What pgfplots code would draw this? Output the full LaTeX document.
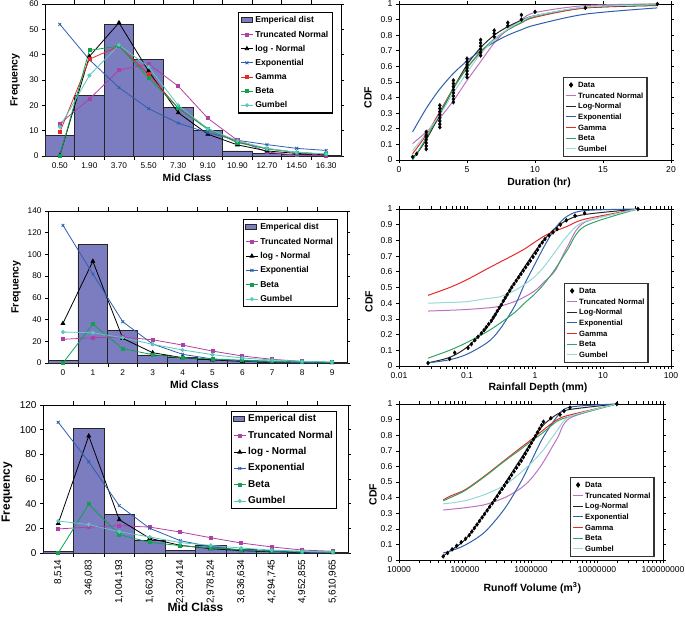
\documentclass[border=0pt]{standalone}
\usepackage{fontspec}
\setmainfont{Liberation Sans}
\usepackage{pgfplots}
\pgfplotsset{compat=1.18}
\definecolor{barfill}{RGB}{124,124,192}
\definecolor{tn}{RGB}{176,64,168}
\definecolor{expc}{RGB}{46,95,173}
\definecolor{gam}{RGB}{230,40,40}
\definecolor{bet}{RGB}{16,160,80}
\definecolor{gum}{RGB}{90,200,190}
\definecolor{tnl}{RGB}{192,112,192}
\definecolor{betl}{RGB}{48,165,100}
\definecolor{guml}{RGB}{150,215,215}
\pgfplotsset{
 common/.style={scale only axis, clip=false,
   axis line style={black,line width=0.9pt},
   tick align=outside, tick style={black,line width=0.6pt}, major tick length=3bp,
   /pgf/number format/assume math mode=true,
   legend cell align=left,
   xlabel style={font=\bfseries\fontsize{10.5}{12}\selectfont, anchor=center},
   ylabel style={font=\bfseries\fontsize{10.5}{12}\selectfont, anchor=center},
 },
 hist/.style={common, xmin=-0.5, xmax=9.5, xtick={0,...,9}, minor x tick num=1,
   major x tick style={draw=none}, minor tick length=4bp, ymin=0,
   legend image code/.code={\draw[mark repeat=2,mark phase=2,##1] plot coordinates {(0bp,0bp) (6bp,0bp) (12bp,0bp)};},
   legend style={draw=black, line width=1.1pt, fill=white, anchor=north west,
     inner xsep=2pt, inner ysep=1pt,
     nodes={inner sep=2pt, text height=0.74em, text depth=0.22em}},
 },
 cdf/.style={common, ymin=0, ymax=1,
   ytick={0,0.1,0.2,0.3,0.4,0.5,0.6,0.7,0.8,0.9,1},
   yticklabels={0,0.1,0.2,0.3,0.4,0.5,0.6,0.7,0.8,0.9,1},
   tick label style={font=\fontsize{8.6}{10}\selectfont},
   legend image code/.code={\draw[mark repeat=2,mark phase=2,##1] plot coordinates {(0bp,0bp) (5bp,0bp) (10bp,0bp)};},
   legend style={draw=black!80, line width=1.1pt, fill=white, anchor=north west,
     font=\bfseries\fontsize{7.7}{9}\selectfont,
     inner xsep=2pt, inner ysep=1pt, row sep=-2.1pt,
     nodes={inner sep=1.6pt, text height=0.74em, text depth=0.22em}},
 },
 barS/.style={ybar, bar width=1, bar shift=0pt, fill=barfill, draw=black!85, line width=0.8pt,
   legend image code/.code={\draw[##1] (0bp,-2.5bp) rectangle (11bp,2.5bp);}},
 tnS/.style={color=tn, line width=0.8pt, mark=square*, mark size=1.5bp},
 lnS/.style={color=black, line width=0.8pt, mark=triangle*, mark size=2.1bp},
 exS/.style={color=expc, line width=0.8pt, mark=x, mark size=2bp},
 gaS/.style={color=gam, line width=0.8pt, mark=square*, mark size=1.5bp},
 beS/.style={color=bet, line width=0.8pt, mark=square*, mark size=1.5bp},
 guS/.style={color=gum, line width=0.8pt, mark=*, mark size=1.6bp},
 dS/.style={only marks, mark=diamond*, mark size=2bp, black},
 ctn/.style={color=tnl, line width=1pt, smooth, no marks},
 cln/.style={color=black!85, line width=1pt, smooth, no marks},
 cex/.style={color=expc, line width=1pt, smooth, no marks},
 cga/.style={color=gam, line width=1pt, smooth, no marks},
 cbe/.style={color=betl, line width=1pt, smooth, no marks},
 cgu/.style={color=guml, line width=1pt, smooth, no marks},
}
\begin{document}
\begin{tikzpicture}
\path[use as bounding box] (0,0) rectangle (685bp,622bp);

% ---------------- Panel 1: Duration histogram
\begin{axis}[hist, at={(45bp,466bp)}, anchor=south west, width=296bp, height=152bp,
  ymax=60, ytick={0,10,...,60},
  xticklabels={0.50,1.90,3.70,5.50,7.30,9.10,10.90,12.70,14.50,16.30},
  tick label style={font=\fontsize{8.3}{10}\selectfont},
  xlabel={Mid Class}, ylabel={Frequency},
  xlabel style={at={(axis description cs:0.48,-0.145)}},
  ylabel style={at={(axis description cs:-0.101,0.5)}},
  legend style={at={(axis description cs:0.652,0.947)}, font=\bfseries\fontsize{8.6}{10}\selectfont, row sep=0.6pt}]
\addplot[barS] coordinates {(0,8) (1,24) (2,52) (3,38) (4,19) (5,10) (6,2) (7,1) (8,0.5) (9,0.3)};
\addlegendentry{Emperical dist}
\addplot[tnS] coordinates {(0,12.8) (1,22.5) (2,33.9) (3,36.3) (4,27.6) (5,14.9) (6,6.2) (7,1.6) (8,0.3) (9,0.1)};
\addlegendentry{Truncated Normal}
\addplot[lnS] coordinates {(0,0.2) (1,39.3) (2,52.6) (3,33.5) (4,17.1) (5,8.6) (6,4.4) (7,2.0) (8,1.0) (9,0.5)};
\addlegendentry{log - Normal}
\addplot[exS] coordinates {(0,52) (1,38) (2,27) (3,18.7) (4,13) (5,9.2) (6,6.2) (7,4.5) (8,3) (9,2.2)};
\addlegendentry{Exponential}
\addplot[gaS] coordinates {(0,9.4) (1,38.2) (2,43.4) (3,32.3) (4,18.9) (5,10.8) (6,5.5) (7,2.9) (8,1.4) (9,0.7)};
\addlegendentry{Gamma}
\addplot[beS] coordinates {(0,0) (1,41.7) (2,43.4) (3,30.9) (4,19) (5,10.5) (6,5.3) (7,2.8) (8,1.4) (9,0.7)};
\addlegendentry{Beta}
\addplot[guS] coordinates {(0,11.5) (1,31.8) (2,43.8) (3,35.2) (4,20) (5,10.8) (6,6) (7,3) (8,1.5) (9,0.8)};
\addlegendentry{Gumbel}
\end{axis}

% ---------------- Panel 2: Duration CDF
\begin{axis}[cdf, at={(399bp,462bp)}, anchor=south west, width=272bp, height=156bp,
  xmin=0, xmax=20, xtick={0,5,10,15,20},
  xlabel={Duration (hr)}, ylabel={CDF},
  xlabel style={at={(axis description cs:0.515,-0.147)}},
  ylabel style={at={(axis description cs:-0.114,0.40)}},
  legend style={at={(axis description cs:0.603,0.532)}}]
\addlegendimage{dS}\addlegendentry{Data}
\addplot[ctn] coordinates {(1,0.105) (2,0.18) (3,0.27) (4,0.38) (5,0.51) (6,0.63) (7,0.75) (8,0.84) (9,0.90) (10,0.945) (13.7,0.99) (19,1.0)};
\addlegendentry{Truncated Normal}
\addplot[cln] coordinates {(1,0.02) (1.3,0.04) (2,0.13) (3,0.29) (4,0.46) (5,0.61) (6,0.72) (7,0.80) (8,0.855) (9,0.895) (10,0.925) (13.7,0.975) (19,0.99)};
\addlegendentry{Log-Normal}
\addplot[cex] coordinates {(1,0.18) (2,0.33) (3,0.455) (4,0.555) (5,0.635) (6,0.70) (7,0.755) (8,0.80) (9,0.835) (10,0.865) (13.7,0.935) (19,0.975)};
\addlegendentry{Exponential}
\addplot[cga] coordinates {(1,0.04) (2,0.16) (3,0.31) (4,0.46) (5,0.59) (6,0.69) (7,0.77) (8,0.835) (9,0.88) (10,0.915) (13.7,0.975) (19,0.995)};
\addlegendentry{Gamma}
\addplot[cbe] coordinates {(1,0.0) (2,0.14) (3,0.30) (4,0.46) (5,0.59) (6,0.695) (7,0.775) (8,0.835) (9,0.88) (10,0.92) (13.7,0.98) (19,1.0)};
\addlegendentry{Beta}
\addplot[cgu] coordinates {(1,0.06) (2,0.17) (3,0.29) (4,0.43) (5,0.56) (6,0.68) (7,0.77) (8,0.84) (9,0.89) (10,0.925) (13.7,0.98) (19,0.995)};
\addlegendentry{Gumbel}
\addplot[dS, forget plot] coordinates {(1.0,0.02) (1.3,0.04)
 (2,0.07) (2,0.09) (2,0.11) (2,0.13) (2,0.15) (2,0.16) (2,0.18)
 (3,0.21) (3,0.23) (3,0.25) (3,0.27) (3,0.29) (3,0.31) (3,0.33) (3,0.35)
 (4,0.37) (4,0.39) (4,0.41) (4,0.43) (4,0.45) (4,0.47) (4,0.49) (4,0.51)
 (5,0.53) (5,0.55) (5,0.57) (5,0.59) (5,0.61) (5,0.63) (5,0.65)
 (6,0.67) (6,0.69) (6,0.71) (6,0.73) (6,0.75) (6,0.77)
 (7,0.79) (7,0.81) (7,0.83) (8,0.86) (8,0.88) (9,0.90) (9,0.93)
 (10,0.95) (13.7,0.975) (19,1.0)};
\end{axis}

% ---------------- Panel 3: Rainfall histogram
\begin{axis}[hist, at={(48bp,259bp)}, anchor=south west, width=299bp, height=152bp,
  ymax=140, ytick={0,20,...,140},
  xticklabels={0,1,2,3,4,5,6,7,8,9},
  tick label style={font=\fontsize{8.3}{10}\selectfont},
  xlabel={Mid Class}, ylabel={Frequency},
  xlabel style={at={(axis description cs:0.49,-0.145)}},
  ylabel style={at={(axis description cs:-0.107,0.5)}},
  legend style={at={(axis description cs:0.652,0.947)}, font=\bfseries\fontsize{8.6}{10}\selectfont, row sep=0.8pt}]
\addplot[barS] coordinates {(0,2) (1,109) (2,30.3) (3,7.4) (4,5) (5,3) (6,2) (7,1) (8,1) (9,0.5)};
\addlegendentry{Emperical dist}
\addplot[tnS] coordinates {(0,21.8) (1,23.3) (2,23.8) (3,21.4) (4,16.5) (5,11) (6,6.4) (7,3.4) (8,1.5) (9,0.6)};
\addlegendentry{Truncated Normal}
\addplot[lnS] coordinates {(0,36.5) (1,93.7) (2,22.7) (3,9.5) (4,4.9) (5,2.8) (6,1.5) (7,0.9) (8,0.6) (9,0.3)};
\addlegendentry{log - Normal}
\addplot[exS] coordinates {(0,126.8) (1,82) (2,38) (3,17.5) (4,8) (5,3.7) (6,1.8) (7,0.9) (8,0.4) (9,0.2)};
\addlegendentry{Exponential}
\addplot[beS] coordinates {(0,0) (1,35.8) (2,13.2) (3,7.7) (4,4.9) (5,3.7) (6,2.6) (7,1.8) (8,1.2) (9,0.6)};
\addlegendentry{Beta}
\addplot[guS] coordinates {(0,28.5) (1,27.9) (2,23.3) (3,17.2) (4,12) (5,7.7) (6,4.6) (7,2.8) (8,1.5) (9,0.9)};
\addlegendentry{Gumbel}
\end{axis}

% ---------------- Panel 4: Rainfall CDF
\begin{axis}[cdf, at={(399bp,256bp)}, anchor=south west, width=272bp, height=157bp,
  xmode=log, xmin=0.01, xmax=100, xtick={0.01,0.1,1,10,100}, xticklabels={0.01,0.1,1,10,100},
  minor xtick={},
  xlabel={Rainfall Depth (mm)}, ylabel={CDF},
  xlabel style={at={(axis description cs:0.511,-0.14)}},
  ylabel style={at={(axis description cs:-0.11,0.41)}},
  legend style={at={(axis description cs:0.607,0.529)}}]
\addlegendimage{dS}\addlegendentry{Data}
\addplot[ctn] coordinates {(0.0267,0.35) (0.0556,0.355) (0.1,0.36) (0.2,0.37) (0.3,0.38) (0.5,0.41) (0.7,0.44) (1,0.48) (1.4,0.54) (2,0.61) (3,0.76) (5.37,0.915) (32.7,1.0)};
\addlegendentry{Truncated Normal}
\addplot[cln] coordinates {(0.0267,0.02) (0.0556,0.055) (0.1,0.12) (0.2,0.25) (0.3,0.37) (0.5,0.53) (0.7,0.63) (1,0.73) (1.4,0.81) (2,0.88) (3,0.93) (5.37,0.965) (32.7,1.0)};
\addlegendentry{Log-Normal}
\addplot[cex] coordinates {(0.0267,0.02) (0.0556,0.04) (0.1,0.075) (0.2,0.15) (0.3,0.23) (0.5,0.38) (0.7,0.52) (1,0.65) (1.4,0.77) (2,0.88) (3,0.955) (5.37,0.99) (32.7,1.0)};
\addlegendentry{Exponential}
\addplot[cga] coordinates {(0.0267,0.45) (0.0556,0.50) (0.1,0.55) (0.2,0.62) (0.3,0.66) (0.5,0.71) (0.7,0.745) (1,0.79) (1.4,0.83) (2,0.86) (3,0.89) (5.37,0.935) (32.7,1.0)};
\addlegendentry{Gamma}
\addplot[cbe] coordinates {(0.0267,0.05) (0.0556,0.10) (0.1,0.15) (0.2,0.22) (0.3,0.27) (0.5,0.34) (0.7,0.40) (1,0.46) (1.4,0.53) (2,0.62) (3,0.74) (5.37,0.89) (32.7,1.0)};
\addlegendentry{Beta}
\addplot[cgu] coordinates {(0.0267,0.40) (0.0556,0.405) (0.1,0.41) (0.2,0.43) (0.3,0.44) (0.5,0.48) (0.7,0.52) (1,0.57) (1.4,0.64) (2,0.73) (3,0.83) (5.37,0.92) (32.7,1.0)};
\addlegendentry{Gumbel}
\addplot[dS, forget plot] coordinates {(0.0267,0.019) (0.0556,0.045) (0.0659,0.085) (0.1035,0.115) (0.116,0.139) (0.130,0.164) (0.145,0.186) (0.163,0.209) (0.178,0.228) (0.192,0.247) (0.208,0.267) (0.228,0.288) (0.244,0.309) (0.261,0.328) (0.279,0.350) (0.299,0.371) (0.320,0.390) (0.342,0.414) (0.366,0.435) (0.392,0.456) (0.424,0.480) (0.454,0.501) (0.491,0.522) (0.531,0.544) (0.575,0.565) (0.622,0.586) (0.673,0.608) (0.729,0.629) (0.789,0.650) (0.853,0.670) (0.935,0.695) (1.02,0.719) (1.09,0.740) (1.17,0.765) (1.28,0.787) (1.40,0.808) (1.61,0.832) (1.84,0.851) (2.11,0.872) (2.36,0.900) (2.89,0.928) (3.88,0.957) (5.37,0.974) (32.7,1.0)};
\end{axis}

% ---------------- Panel 5: Runoff histogram
\begin{axis}[hist, at={(43bp,69bp)}, anchor=south west, width=305bp, height=148bp,
  ymax=120, ytick={0,20,...,120},
  xticklabels={{8,514},{346,083},{1,004,193},{1,662,303},{2,320,414},{2,978,524},{3,636,634},{4,294,745},{4,952,855},{5,610,965}},
  tick label style={font=\fontsize{10}{11}\selectfont},
  xticklabel style={rotate=90, anchor=east},
  xlabel={Mid Class}, ylabel={Frequency},
  xlabel style={at={(axis description cs:0.5,-0.365)}, font=\bfseries\fontsize{12}{14}\selectfont},
  ylabel style={at={(axis description cs:-0.118,0.41)}, font=\bfseries\fontsize{12}{14}\selectfont},
  legend style={at={(axis description cs:0.616,0.959)}, font=\bfseries\fontsize{10}{12}\selectfont, row sep=2.8pt}]
\addplot[barS] coordinates {(0,1) (1,101) (2,31) (3,10.5) (4,2) (5,6) (6,3) (7,1.3) (8,0.8) (9,0.3)};
\addlegendentry{Emperical dist}
\addplot[tnS] coordinates {(0,19.5) (1,21) (2,22.2) (3,21) (4,17) (5,12.4) (6,8.1) (7,4.9) (8,2.4) (9,1.4)};
\addlegendentry{Truncated Normal}
\addplot[lnS] coordinates {(0,24) (1,94.9) (2,27) (3,11.9) (4,6.2) (5,3.5) (6,1.9) (7,1.1) (8,0.5) (9,0.3)};
\addlegendentry{log - Normal}
\addplot[exS] coordinates {(0,106) (1,74) (2,38.4) (3,20) (4,10) (5,5.1) (6,2.4) (7,1.3) (8,0.6) (9,0.3)};
\addlegendentry{Exponential}
\addplot[beS] coordinates {(0,0) (1,39.5) (2,14.9) (3,8.6) (4,6) (5,4) (6,2.7) (7,1.9) (8,1.2) (9,0.8)};
\addlegendentry{Beta}
\addplot[guS] coordinates {(0,26) (1,23) (2,17.3) (3,13) (4,8.4) (5,6.2) (6,4) (7,2.4) (8,1.4) (9,0.8)};
\addlegendentry{Gumbel}
\end{axis}

% ---------------- Panel 6: Runoff CDF
\begin{axis}[cdf, at={(399bp,62bp)}, anchor=south west, width=264bp, height=156bp,
  xmode=log, xmin=1e4, xmax=1e8, xtick={1e4,1e5,1e6,1e7,1e8},
  xticklabels={10000,100000,1000000,10000000,100000000},
  minor xtick={},
  xlabel={Runoff Volume (m\textsuperscript{3})}, ylabel={CDF},
  xlabel style={at={(axis description cs:0.505,-0.18)}},
  ylabel style={at={(axis description cs:-0.098,0.42)}},
  legend style={at={(axis description cs:0.648,0.532)}}]
\addlegendimage{dS}\addlegendentry{Data}
\addplot[ctn] coordinates {(46800,0.32) (60000,0.325) (100000,0.335) (200000,0.355) (400000,0.40) (700000,0.46) (1000000,0.52) (1500000,0.62) (2500000,0.78) (3900000,0.91) (20000000,1.0)};
\addlegendentry{Truncated Normal}
\addplot[cln] coordinates {(46800,0.025) (60000,0.06) (100000,0.13) (200000,0.30) (400000,0.49) (700000,0.65) (1000000,0.75) (1500000,0.86) (2500000,0.935) (3900000,0.965) (20000000,1.0)};
\addlegendentry{Log-Normal}
\addplot[cex] coordinates {(46800,0.045) (60000,0.058) (100000,0.095) (200000,0.18) (400000,0.33) (700000,0.50) (1000000,0.63) (1500000,0.78) (2500000,0.92) (3900000,0.98) (20000000,1.0)};
\addlegendentry{Exponential}
\addplot[cga] coordinates {(46800,0.385) (60000,0.41) (100000,0.45) (200000,0.54) (400000,0.64) (700000,0.72) (1000000,0.77) (1500000,0.83) (2500000,0.90) (3900000,0.93) (20000000,1.0)};
\addlegendentry{Gamma}
\addplot[cbe] coordinates {(46800,0.38) (60000,0.40) (100000,0.445) (200000,0.535) (400000,0.635) (700000,0.71) (1000000,0.76) (1500000,0.815) (2500000,0.89) (3900000,0.92) (20000000,1.0)};
\addlegendentry{Beta}
\addplot[cgu] coordinates {(46800,0.36) (60000,0.365) (100000,0.38) (200000,0.42) (400000,0.48) (700000,0.56) (1000000,0.62) (1500000,0.70) (2500000,0.83) (3900000,0.92) (20000000,1.0)};
\addlegendentry{Gumbel}
\addplot[dS, forget plot] coordinates {(46800,0.023) (54500,0.045) (63800,0.068) (74800,0.091) (87500,0.114) (102000,0.136) (116000,0.159) (127000,0.182) (139000,0.205) (152000,0.227) (166000,0.25) (182000,0.273) (198000,0.295) (217000,0.318) (237000,0.341) (260000,0.364) (283000,0.386) (308000,0.409) (335000,0.432) (365000,0.455) (396000,0.477) (431000,0.5) (469000,0.523) (508000,0.545) (553000,0.568) (603000,0.591) (656000,0.614) (711000,0.636) (766000,0.659) (822000,0.682) (883000,0.705) (945000,0.727) (1014000,0.75) (1089000,0.773) (1166000,0.795) (1253000,0.818) (1345000,0.841) (1445000,0.864) (1545000,0.886) (1995000,0.909) (2754000,0.932) (3162000,0.955) (3890000,0.977) (19950000,1.0)};
\end{axis}
\end{tikzpicture}
\end{document}
